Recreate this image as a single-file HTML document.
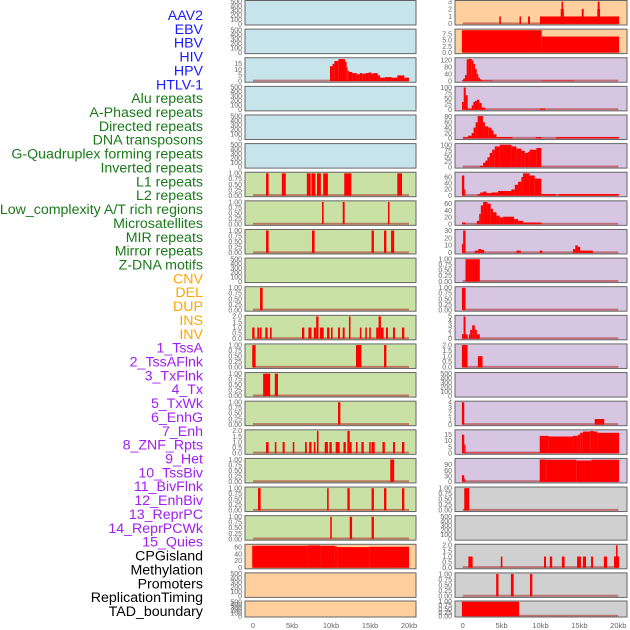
<!DOCTYPE html>
<html><head><meta charset="utf-8"><style>
html,body{margin:0;padding:0;background:#fff;width:630px;height:630px;overflow:hidden}
svg{display:block;font-family:"Liberation Sans",sans-serif}
</style></head><body>
<svg id="chart" width="630" height="630" viewBox="0 0 630 630" xmlns="http://www.w3.org/2000/svg"></svg>
<script>
// ---- labels ----
const labelNames = ["AAV2","EBV","HBV","HIV","HPV","HTLV-1","Alu repeats","A-Phased repeats","Directed repeats","DNA transposons","G-Quadruplex forming repeats","Inverted repeats","L1 repeats","L2 repeats","Low_complexity A/T rich regions","Microsatellites","MIR repeats","Mirror repeats","Z-DNA motifs","CNV","DEL","DUP","INS","INV","1_TssA","2_TssAFlnk","3_TxFlnk","4_Tx","5_TxWk","6_EnhG","7_Enh","8_ZNF_Rpts","9_Het","10_TssBiv","11_BivFlnk","12_EnhBiv","13_ReprPC","14_ReprPCWk","15_Quies","CPGisland","Methylation","Promoters","ReplicationTiming","TAD_boundary"];
const labelColors = ["#1a1aff","#1a1aff","#1a1aff","#1a1aff","#1a1aff","#1a1aff","#1a7a1a","#1a7a1a","#1a7a1a","#1a7a1a","#1a7a1a","#1a7a1a","#1a7a1a","#1a7a1a","#1a7a1a","#1a7a1a","#1a7a1a","#1a7a1a","#1a7a1a","#ffa500","#ffa500","#ffa500","#ffa500","#ffa500","#a020f0","#a020f0","#a020f0","#a020f0","#a020f0","#a020f0","#a020f0","#a020f0","#a020f0","#a020f0","#a020f0","#a020f0","#a020f0","#a020f0","#a020f0","#000","#000","#000","#000","#000"];
const xTickVals = [0,5,10,15,20];
const xTickLabels = ["0","5kb","10kb","15kb","20kb"];
const EMPTY = ["0","100","200","300","400","500"];
const T1 = ["0.00","0.25","0.50","0.75","1.00"];
const T2 = ["0.0","0.5","1.0","1.5","2.0"];
// ---- left column tracks: segments [startKb, endKb, value] ----
const L0=[],L1=[],L3=[],L4=[],L5=[],L9=[],L20=[],L21=[];
const L2 = [[9.87,10.2,13],[10.2,10.43,15],[10.43,10.94,17.5],[10.94,11.8,19.2],[11.8,12.0,17],[12.0,12.14,12],[12.14,12.3,9],[12.3,12.74,8],[12.74,13.3,7],[13.3,13.7,6],[13.7,14.0,7],[14.0,14.4,6.5],[14.4,14.8,7],[14.8,15.2,7.5],[15.2,15.4,6.5],[15.4,16.0,7],[16.0,16.3,5],[16.3,16.9,3],[16.9,17.8,3.5],[17.8,18.5,3],[18.5,19.4,5],[19.4,20.0,3]];
const L6 = [[1.67,2.0,1],[3.7,4.2,1],[6.9,7.4,1],[7.5,8.0,1],[8.2,8.7,1],[9.0,9.6,1],[11.7,12.6,1],[18.5,19.1,1]];
const L7 = [[8.85,9.06,1],[11.5,11.75,1],[17.3,17.5,1]];
const L8 = [[1.67,2.0,1],[7.56,7.9,1],[15.2,15.5,1],[16.8,17.1,1],[17.7,18.1,1]];
const L10 = [[0.9,1.24,1]];
const L11 = [[-0.1,0.2,1],[0.56,0.81,1],[0.9,1.1,1],[1.58,1.88,1],[2.18,2.39,1],[6.28,6.58,1],[7.1,7.5,1],[7.8,8.1,1],[8.1,8.4,2],[8.6,9.06,1],[9.5,9.8,1],[10.0,10.2,1],[10.9,11.15,1],[11.5,11.75,1],[12.3,12.5,2],[13.7,13.9,1],[14.4,14.6,1],[14.9,15.1,1],[15.8,16.1,1],[16.1,16.4,2],[16.4,16.75,1],[17.05,17.3,1],[17.95,18.2,1],[19.1,19.4,1]];
const L12 = [[-0.1,0.34,1],[13.2,13.9,1],[16.8,17.1,1]];
const L13 = [[1.3,2.2,1],[2.8,3.2,1]];
const L14 = [[10.9,11.2,1]];
const L15 = [[1.67,2.0,1],[2.8,3.0,1],[3.8,4.06,1],[5.1,5.3,1],[6.67,6.9,1],[7.2,7.5,1],[7.8,8.0,1],[8.2,8.4,2],[9.2,9.6,1],[9.8,10.1,1],[10.6,11.1,1],[11.6,11.9,1],[12.1,12.4,2],[12.4,12.65,1],[13.2,13.4,1],[13.9,14.2,1],[14.9,15.1,1],[15.2,15.6,1],[16.6,16.9,1],[17.95,18.2,1],[19.1,19.4,1]];
const L16 = [[17.6,18.1,1]];
const L17 = [[0.64,0.98,1],[9.5,9.7,1],[12.1,12.4,1],[15.2,15.5,1],[16.8,17.1,1],[19.1,19.4,1]];
const L18 = [[9.9,10.1,1],[12.4,12.7,1],[15.2,15.5,1]];
const L19 = [[-0.1,7.0,64],[7.0,8.6,65],[8.6,10.5,64],[10.5,10.8,62],[10.8,14.9,60],[14.9,20.0,61]];
// ---- right column tracks ----
const R13=[],R18=[];
const R0 = [[4.7,4.9,1],[7.3,7.5,1],[8.4,8.65,1],[9.93,20.1,1],[12.6,13.0,2],[12.7,12.9,3],[15.3,15.55,2],[17.3,17.65,2],[17.35,17.6,3]];
const R1 = [[-0.1,10.15,9.2],[10.15,20.1,6.6]];
const R2 = [[-0.09,0.08,5],[0.08,0.3,15],[0.3,0.51,35],[0.51,0.73,125],[0.73,1.16,128],[1.16,1.37,120],[1.37,1.58,100],[1.58,1.8,70],[1.8,2.01,40],[2.01,2.22,20],[2.22,2.44,10],[2.44,2.65,5],[2.65,3.85,3],[10.15,14.3,3]];
const R3 = [[-0.09,0.13,35],[0.13,0.39,100],[0.39,0.64,65],[0.64,1.16,5],[1.16,1.37,20],[1.37,1.58,35],[1.58,1.84,40],[1.84,2.14,45],[2.14,2.44,30],[2.44,2.87,10],[9.9,10.6,5]];
const R4 = [[0.06,0.7,5],[0.7,1.15,10],[1.15,1.4,20],[1.4,1.66,40],[1.66,1.92,60],[1.92,2.6,83],[2.6,2.86,60],[2.86,3.29,45],[3.29,3.7,40],[3.7,3.96,30],[3.96,4.35,15],[4.35,6.4,5],[9.4,10.1,5],[12.0,20.1,5]];
const R5 = [[2.2,2.63,5],[2.63,2.93,20],[2.93,3.18,30],[3.18,3.48,45],[3.48,3.78,65],[3.78,4.12,80],[4.12,4.76,95],[4.76,6.26,103],[6.26,6.9,95],[6.9,7.54,85],[7.54,7.97,75],[7.97,8.4,65],[8.4,8.6,70],[8.6,9.47,80],[9.47,10.1,88]];
const R6 = [[-0.1,0.2,65],[0.2,0.36,20],[1.9,2.24,5],[2.24,2.63,10],[2.63,3.06,13],[3.06,3.7,8],[3.7,4.55,10],[4.55,6.26,15],[6.26,6.7,20],[6.7,7.12,35],[7.12,7.54,45],[7.54,7.76,60],[7.76,8.6,72],[8.6,9.26,65],[9.26,10.1,55],[10.1,12.03,5],[12.3,20.1,5]];
const R7 = [[-0.1,0.36,5],[1.82,2.12,10],[2.12,2.33,30],[2.33,2.63,55],[2.63,3.18,65],[3.18,3.6,60],[3.6,3.9,45],[3.9,4.35,35],[4.35,4.76,25],[4.76,5.2,20],[5.2,6.6,22],[6.6,7.12,15],[7.12,7.76,10],[7.76,10.1,5]];
const R8 = [[-0.1,0.06,12],[0.06,0.36,30],[1.56,1.99,3],[1.99,2.41,5],[2.41,2.76,4],[6.9,7.46,3],[9.9,10.25,3],[14.17,14.47,5],[14.47,14.8,10],[14.8,15.1,8],[15.1,16.73,3]];
const R9 = [[0.36,2.2,1]];
const R10 = [[-0.1,0.36,1]];
const R11 = [[-0.1,0.11,1],[0.11,0.36,5],[0.36,0.62,1],[0.8,0.96,1],[0.96,1.22,2],[1.22,1.56,3],[1.56,1.82,2],[1.82,2.2,1]];
const R12 = [[-0.1,0.62,2],[1.95,2.55,1]];
const R14 = [[-0.1,0.2,4],[16.97,18.2,1]];
const R15 = [[-0.1,0.2,15],[0.2,0.36,7],[0.36,9.9,0.4],[9.9,11.07,14],[11.07,14.17,13.5],[14.17,14.8,14],[14.8,15.1,15],[15.1,15.45,16.5],[15.45,16.4,17.5],[16.4,16.8,18],[16.8,17.3,17.5],[17.3,20.1,16.5]];
const R16 = [[-0.1,0.2,35],[0.2,0.36,15],[9.9,10.8,118],[10.8,14.6,117],[14.6,16.55,113],[16.55,20.1,117]];
const R17 = [[0.2,0.84,1]];
const R19 = [[0.73,1.28,1],[4.9,5.1,1],[10.45,10.7,1],[11.2,11.5,1],[12.75,13.1,1],[14.7,15.2,1],[15.45,15.85,1],[16.5,16.75,1],[18.15,18.55,1],[19.45,20.1,1],[19.7,19.9,2]];
const R20 = [[4.3,4.6,1],[6.2,6.55,1],[8.65,8.95,1]];
const R21 = [[-0.1,7.25,1]];

const leftData = [L0,L1,L2,L3,L4,L5,L6,L7,L8,L9,L10,L11,L12,L13,L14,L15,L16,L17,L18,L19,L20,L21];
const rightData = [R0,R1,R2,R3,R4,R5,R6,R7,R8,R9,R10,R11,R12,R13,R14,R15,R16,R17,R18,R19,R20,R21];
const leftTicks = [EMPTY,EMPTY,["0","5","10","15"],EMPTY,EMPTY,EMPTY,T1,T1,T1,EMPTY,T1,T2,T1,T1,T1,T2,T1,T1,T1,["0","20","40","60"],EMPTY,EMPTY];
const leftMax = [0,0,19.4,0,0,0,1,1,1,0,1,2,1,1,1,2,1,1,1,65,0,0];
const rightTicks = [["0","1","2","3"],["0.0","2.5","5.0","7.5"],["0","40","80","120"],["0","25","50","75","100"],["0","20","40","60","80"],["0","25","50","75","100"],["0","20","40","60"],["0","20","40","60"],["0","10","20","30"],T1,T1,["0","1","2","3","4","5"],T2,EMPTY,["0","1","2","3","4"],["0","5","10","15"],["0","30","60","90"],T1,EMPTY,T2,T1,T1];
const rightMax = [3,9.2,128,100,83,103,72,65,30,1,1,5,2,0,4,18,118,1,0,2,1,1];
const leftBg = ["#c8e4eb","#c8e4eb","#c8e4eb","#c8e4eb","#c8e4eb","#c8e4eb","#c9e1a5","#c9e1a5","#c9e1a5","#c9e1a5","#c9e1a5","#c9e1a5","#c9e1a5","#c9e1a5","#c9e1a5","#c9e1a5","#c9e1a5","#c9e1a5","#c9e1a5","#ffd09e","#ffd09e","#ffd09e"];
const rightBg = ["#ffd09e","#ffd09e","#d7c6e2","#d7c6e2","#d7c6e2","#d7c6e2","#d7c6e2","#d7c6e2","#d7c6e2","#d7c6e2","#d7c6e2","#d7c6e2","#d7c6e2","#d7c6e2","#d7c6e2","#d7c6e2","#d7c6e2","#d0d0d0","#d0d0d0","#d0d0d0","#d0d0d0","#d0d0d0"];

const NS = "http://www.w3.org/2000/svg";
const svg = document.getElementById('chart');
function mk(tag, attrs, parent){ const e=document.createElementNS(NS,tag); for(const k in attrs) e.setAttribute(k,attrs[k]); (parent||svg).appendChild(e); return e; }

// labels
labelNames.forEach((n,i)=>{
  const t = mk('text',{x:203,y:20+i*13.86,'text-anchor':'end','font-size':14.2,fill:labelColors[i]});
  t.textContent = n;
  
  
});

const cols = [
  {px:245, pw:171, x0:253, x20:409, data:leftData, ticks:leftTicks, max:leftMax, bg:leftBg, tx:242},
  {px:455, pw:172, x0:462.7, x20:618.3, data:rightData, ticks:rightTicks, max:rightMax, bg:rightBg, tx:452}
];
function xScale(c,kb){ return c.x0 + (c.x20-c.x0)*kb/20; }

cols.forEach((c,ci)=>{
  for(let r=0;r<22;r++){
    const top = r===21 ? 601 : 0.5 + r*28.62;
    const h = r===21 ? 16 : 24.5;
    const g = mk('g',{});
    
    
    const bg = mk('rect',{x:c.px,y:top,width:c.pw,height:h,fill:c.bg[r]},g);
    
    
    const M = c.max[r];
    const ticks = c.ticks[r];
    if(M>0){
      const lo=-0.05*M, hi=1.05*M;
      const yS = v => top + h - (v-lo)/(hi-lo)*h;
      const bl = mk('line',{x1:xScale(c,0),x2:xScale(c,20),y1:yS(0)-0.5,y2:yS(0)-0.5,stroke:'rgba(170,40,40,0.55)','stroke-width':2},g);
      
      
      c.data[r].forEach(s=>{
        const x1=xScale(c,s[0]), x2=xScale(c,s[1]);
        const y1=yS(s[2]), y0=yS(0);
        const b = mk('rect',{x:x1,y:Math.max(top,y1),width:Math.max(0.8,x2-x1),height:y0-Math.max(top,y1),fill:'#ff0000'},g);
        
        
      });
      ticks.forEach(tl=>{
        const v=parseFloat(tl);
        const t = mk('text',{x:c.tx,y:yS(v)+2.3,'text-anchor':'end','font-size':7,fill:'#666'},g);
        t.textContent = tl;
        
        
      });
    } else {
      ticks.forEach((tl,i)=>{
        const yy = top + h - 1 - i*(h-2)/(ticks.length-1);
        const t = mk('text',{x:c.tx,y:yy+2.3,'text-anchor':'end','font-size':7,fill:'#666'},g);
        t.textContent = tl;
        
        
      });
    }
    const br = mk('rect',{x:c.px,y:top,width:c.pw,height:h,fill:'none',stroke:'#666','stroke-width':1},g);
    
    
  }
  xTickVals.forEach((v,i)=>{
    const t = mk('text',{x:xScale(c,v),y:628,'text-anchor':'middle','font-size':7.5,fill:'#666'});
    t.textContent = xTickLabels[i];
    
    
  });
});
</script>
</body></html>
